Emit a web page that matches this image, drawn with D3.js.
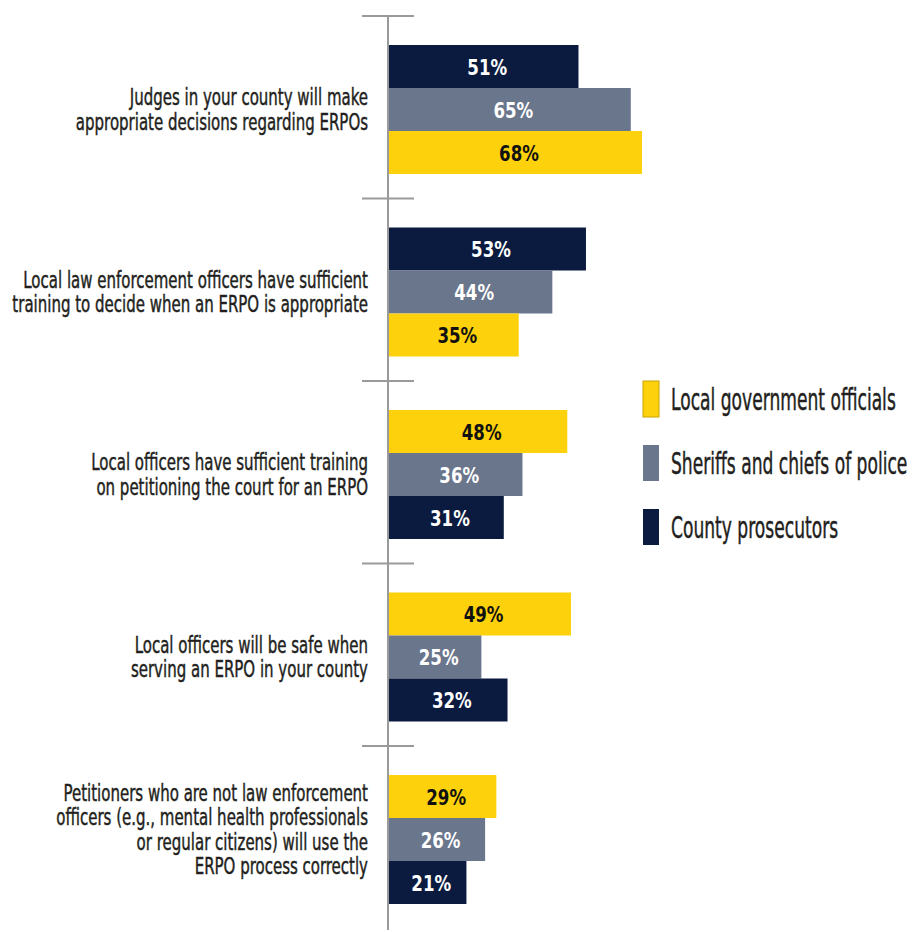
<!DOCTYPE html>
<html>
<head>
<meta charset="utf-8">
<script src="https://cdn.jsdelivr.net/npm/d3@7"></script>
<style>
  body { margin: 0; background: #fff; }
  svg { display: block; }
  text { font-family: "Liberation Sans Narrow", "DejaVu Sans Condensed", sans-serif; }
  .cat, .leg { stroke: #231f20; stroke-width: 0.45px; }
</style>
</head>
<body>
<div id="viz"></div>
<script>
// chart data
var categories = [
  ["Judges in your county will make", "appropriate decisions regarding ERPOs"],
  ["Local law enforcement officers have sufficient", "training to decide when an ERPO is appropriate"],
  ["Local officers have sufficient training", "on petitioning the court for an ERPO"],
  ["Local officers will be safe when", "serving an ERPO in your county"],
  ["Petitioners who are not law enforcement", "officers (e.g., mental health professionals", "or regular citizens) will use the", "ERPO process correctly"]
];
var seriesNames = ["Local government officials", "Sheriffs and chiefs of police", "County prosecutors"];
var localGov    = [68, 35, 48, 49, 29];
var sheriffs    = [65, 44, 36, 25, 26];
var prosecutors = [51, 53, 31, 32, 21];
// which series sits in slot 0,1,2 of each group (top to bottom)
var barOrder = [[2, 1, 0], [2, 1, 0], [0, 1, 2], [0, 1, 2], [0, 1, 2]];

var colors = ["#fdd10b", "#6a768c", "#0b1b3f"];
var labelColors = ["#111", "#fff", "#fff"];
var values = [localGov, sheriffs, prosecutors];

var width = 912, height = 932,
    labelSqueeze = 0.71,   // condense the font, it is much narrower in the original
    legendSqueeze = 0.645,
    valueSqueeze = 0.88;

var svg = d3.select("#viz").append("svg")
            .attr("width", width)
            .attr("height", height);

var x = d3.scaleLinear().domain([0, 100]).range([388, 388 + 373.5]);
var yGroup = d3.scaleBand().domain(d3.range(categories.length)).range([16, 928.5]);
var ySlot = d3.scaleBand().domain([0, 1, 2]).range([29, 158]);

// bars
var groups = svg.selectAll("g.group")
  .data(categories)
  .enter().append("g")
  .attr("class", "group")
  .attr("transform", function(d, i) { return "translate(0," + yGroup(i) + ")"; });

groups.each(function(d, gi) {
  var g = d3.select(this);
  var slots = barOrder[gi].map(function(s, slot) {
    return {series: s, slot: slot, value: values[s][gi]};
  });
  g.selectAll("rect")
    .data(slots)
    .enter().append("rect")
    .attr("x", x(0))
    .attr("y", function(b) { return ySlot(b.slot); })
    .attr("width", function(b) { return x(b.value) - x(0); })
    .attr("height", ySlot.bandwidth())
    .attr("fill", function(b) { return colors[b.series]; });

  g.selectAll("text.val")
    .data(slots)
    .enter().append("text")
    .attr("class", "val")
    .attr("transform", function(b) {
      var cx = (x(0) + x(b.value)) / 2 + 4,
          cy = ySlot(b.slot) + ySlot.bandwidth() / 2 + 8;
      return "translate(" + cx + "," + cy + ") scale(" + valueSqueeze + ",1)";
    })
    .attr("text-anchor", "middle")
    .attr("font-size", 21)
    .attr("font-weight", "bold")
    .attr("fill", function(b) { return labelColors[b.series]; })
    .text(function(b) { return b.value + "%"; });

  // category label, centred on the bars
  var lineH = 24.5;
  var mid = ySlot(0) + (ySlot(2) + ySlot.bandwidth() - ySlot(0)) / 2;
  var nudge = d.length > 2 ? -2 : 8;
  var first = mid - (d.length - 1) * lineH / 2 + nudge;
  var lab = g.append("g")
    .attr("transform", "translate(368," + first + ") scale(" + labelSqueeze + ",1)");
  lab.selectAll("text")
    .data(d)
    .enter().append("text")
    .attr("class", "cat")
    .attr("x", 0)
    .attr("y", function(t, i) { return i * lineH; })
    .attr("text-anchor", "end")
    .attr("font-size", 23.5)
    .attr("fill", "#231f20")
    .text(function(t) { return t; });
});

// axis line and group ticks
svg.append("line")
  .attr("x1", x(0)).attr("x2", x(0))
  .attr("y1", yGroup(0)).attr("y2", 930)
  .attr("stroke", "#9a9a9a").attr("stroke-width", 2);

svg.selectAll("line.tick")
  .data(d3.range(categories.length))
  .enter().append("line")
  .attr("class", "tick")
  .attr("x1", x(0) - 26).attr("x2", x(0) + 26)
  .attr("y1", function(i) { return yGroup(i); })
  .attr("y2", function(i) { return yGroup(i); })
  .attr("stroke", "#9a9a9a").attr("stroke-width", 2);

// legend
var legendY = [399, 463, 527];
var legend = svg.selectAll("g.legend")
  .data(seriesNames)
  .enter().append("g")
  .attr("class", "legend")
  .attr("transform", function(d, i) { return "translate(643," + legendY[i] + ")"; });

legend.append("rect")
  .attr("x", 0).attr("y", -18)
  .attr("width", 16).attr("height", 36)
  .attr("fill", function(d, i) { return colors[i]; })
  .attr("stroke", function(d, i) { return i === 0 ? "#c9a400" : "none"; })
  .attr("stroke-width", 1);

legend.append("text")
  .attr("class", "leg")
  .attr("transform", "translate(28,11) scale(" + legendSqueeze + ",1)")
  .attr("font-size", 29.5)
  .attr("fill", "#231f20")
  .text(function(d) { return d; });
</script>
</body>
</html>
